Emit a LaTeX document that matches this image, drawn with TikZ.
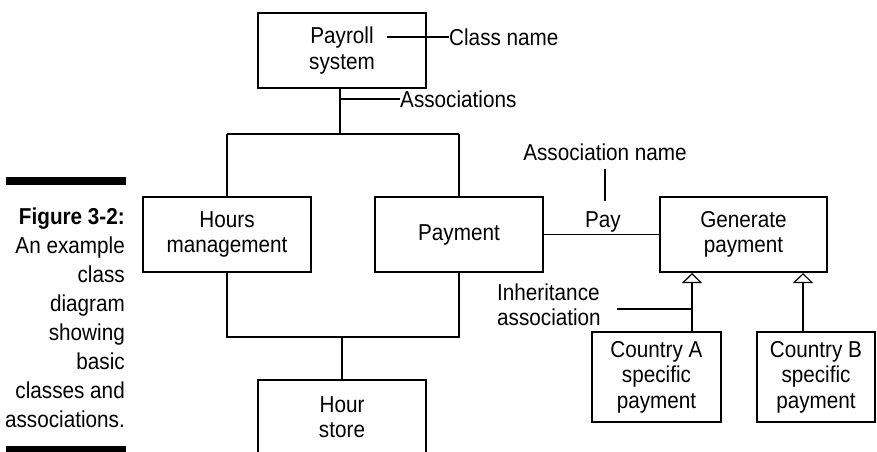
\documentclass[tikz,border=0pt]{standalone}
\usepackage{fontspec}
\setmainfont{Liberation Sans}[FakeStretch=0.9]
\usetikzlibrary{arrows.meta}
\newcommand\dgfont{\fontsize{23}{25.5}\selectfont}
\begin{document}
\begin{tikzpicture}[x=1pt,y=-1pt,
  box/.style={draw, line width=2pt, align=center, inner sep=0pt, font=\dgfont},
  conn/.style={line width=1.1pt},
  lbl/.style={inner sep=0pt, font=\dgfont},
  inh/.style={line width=1.1pt, -{Triangle[open, length=10pt, width=20pt, line width=1.1pt]}},
  bar/.style={fill=black}]
\useasboundingbox (0,0) rectangle (877,451);
% caption
\fill[bar] (6,177) rectangle (126,185);
\fill[bar] (6,446) rectangle (126,458);
\foreach \t [count=\i] in {{\textbf{Figure 3-2:}},An example,class,diagram,showing,basic,classes and,associations.}
  \node[lbl, anchor=base east] (cap\i) at (125,{224+29.1*(\i-1)}) {\t};
% boxes
\node[box, minimum width=168pt, minimum height=75pt] (payroll) at (342,50.5) {Payroll\\system};
\node[box, minimum width=168pt, minimum height=75pt] (hours) at (227,234.5) {Hours\\management};
\node[box, minimum width=168pt, minimum height=75pt] (payment) at (459,234.5) {Payment};
\node[box, minimum width=167pt, minimum height=75pt] (generate) at (743.5,234.5) {Generate\\payment};
\node[box, minimum width=129pt, minimum height=90pt] (countryA) at (656.5,377) {Country A\\specific\\payment};
\node[box, minimum width=118pt, minimum height=90pt] (countryB) at (816,377) {Country B\\specific\\payment};
\node[box, minimum width=168pt, minimum height=74pt] (hourstore) at (342,417) {Hour\\store};
% labels
\node[lbl, anchor=west] (classname) at (449,37) {Class name};
\node[lbl, anchor=west] (assocs) at (400,99) {Associations};
\node[lbl, anchor=base] (assocname) at (605,160) {Association name};
\node[lbl, anchor=base] (pay) at (603,227) {Pay};
\node[lbl, anchor=base west] (inh1) at (497,300) {Inheritance};
\node[lbl, anchor=base west] (inh2) at (497,325) {association};
% coordinates
\coordinate (cnstart) at (387,37);
\coordinate (trunk) at (340,134);
\coordinate (asc) at (340,99);
\coordinate (busL) at (227,134);
\coordinate (busR) at (459,134);
\coordinate (lowL) at (227,337);
\coordinate (lowR) at (459,337);
\coordinate (lowM) at (342,337);
\coordinate (antop) at (605,169);
\coordinate (anbot) at (605,201);
\coordinate (inhL) at (617,309);
\coordinate (inhR) at (692,309);
% connectors
\draw[conn] (cnstart) -- (classname.west);
\draw[conn] (payroll.south -| trunk) -- (trunk);
\draw[conn] (asc) -- (assocs.west);
\draw[conn] (busL) -- (busR);
\draw[conn] (busL) -- (hours.north);
\draw[conn] (busR) -- (payment.north);
\draw[conn] (hours.south) -- (lowL) -- (lowR) -- (payment.south);
\draw[conn] (lowM) -- (hourstore.north);
\draw[conn] (payment.east) -- (generate.west);
\draw[conn] (antop) -- (anbot);
\draw[inh] (countryA.north -| inhR) -- (generate.south -| inhR);
\draw[inh] (countryB.north -| 803,0) -- (generate.south -| 803,0);
\draw[conn] (inhL) -- (inhR);
\end{tikzpicture}
\end{document}
